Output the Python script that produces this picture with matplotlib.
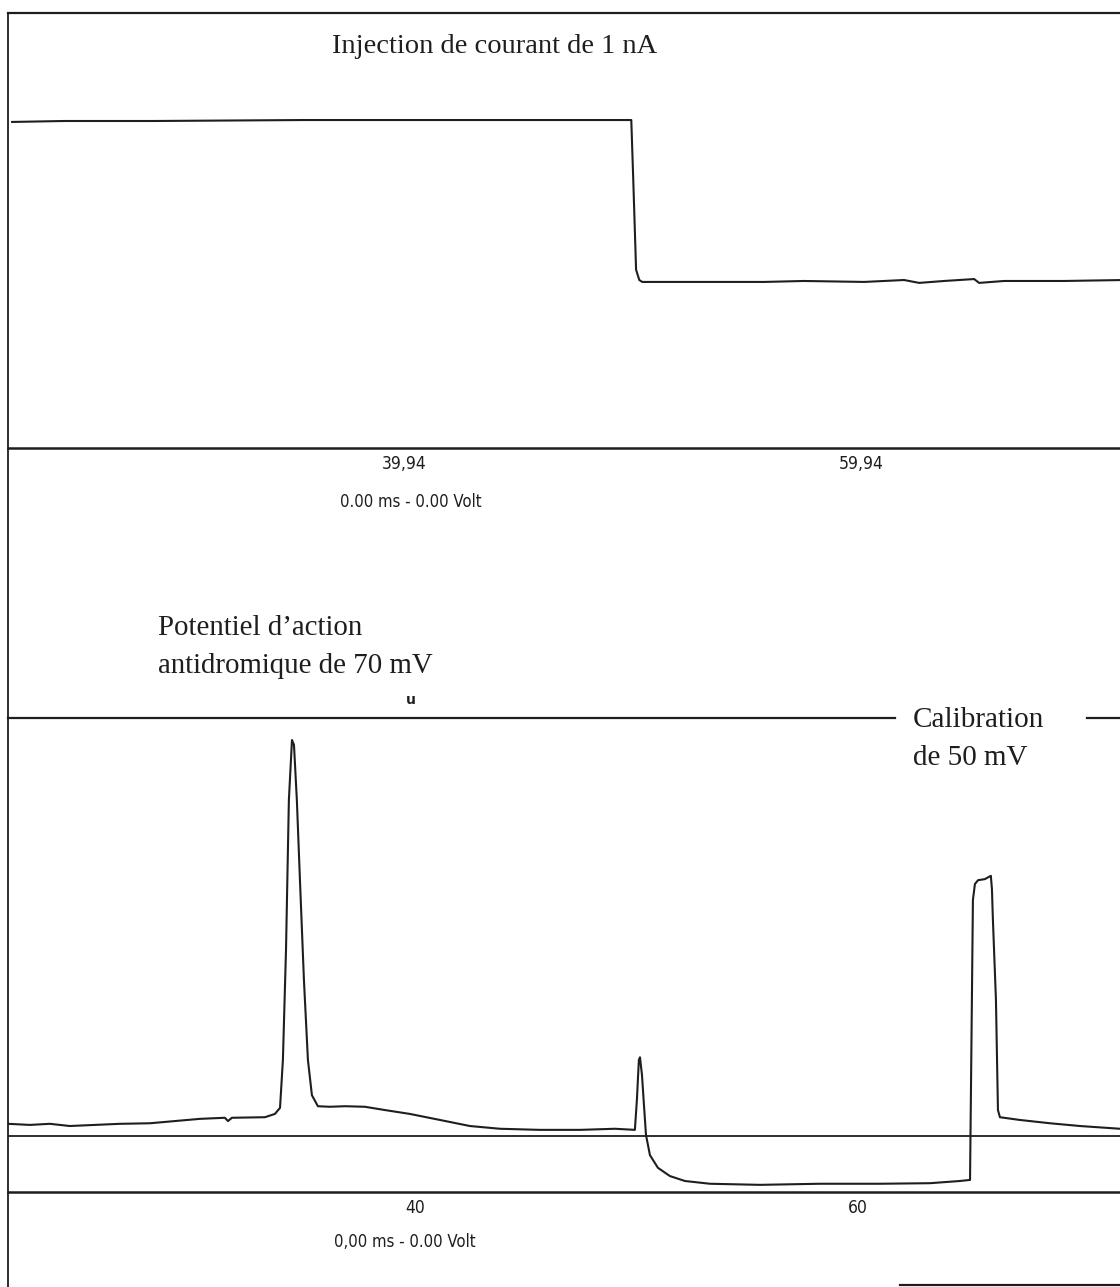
import matplotlib.pyplot as plt
from matplotlib.lines import Line2D
import numpy as np

# //--------------------------< data >--------------------------\\

# top trace : injected current (nA, relative to the step level), time in ms
cur_t = [22.78, 25.06, 29.0, 35.56, 42.13, 48.69, 49.88, 49.96, 50.09, 50.23,
         50.36, 52.19, 55.70, 57.44, 60.07, 61.82, 62.48, 63.57, 64.89, 65.1,
         66.2, 68.82, 71.45]
cur_v = [0.994, 1.0, 1.0, 1.006, 1.006, 1.006, 1.006, 0.66, 0.07, 0.006,
         -0.006, -0.006, -0.006, 0.0, -0.006, 0.006, -0.012, 0.0, 0.012, -0.012,
         0.0, 0.0, 0.006]

# bottom trace : membrane potential (mV above lower line), time in ms
pot_t = [21.63, 22.62, 23.52, 24.42, 25.55, 26.68, 28.04, 29.16, 30.29, 31.42,
         31.56, 31.74, 33.23, 33.68, 33.91, 34.04, 34.18, 34.31, 34.45, 34.54,
         34.67, 34.81, 34.99, 35.17, 35.35, 35.62, 36.16, 36.84, 37.74, 38.65,
         39.77, 41.13, 42.48, 43.84, 45.64, 47.45, 49.03, 49.93, 50.02, 50.11,
         50.16, 50.25, 50.34, 50.43, 50.61, 50.97, 51.51, 52.19, 53.32, 55.58,
         58.28, 60.99, 63.25, 64.60, 65.06, 65.19, 65.28, 65.42, 65.73, 66.00,
         66.05, 66.09, 66.23, 66.32, 66.41, 67.31, 68.67, 70.02, 71.83]
pot_v = [12.4, 12.2, 12.4, 12.0, 12.2, 12.4, 12.5, 12.9, 13.3, 13.5,
         12.9, 13.5, 13.6, 14.2, 15.3, 24.0, 44.0, 71.3, 82.2, 81.3,
         71.3, 56.7, 38.5, 24.0, 17.6, 15.6, 15.5, 15.6, 15.5, 14.9,
         14.2, 13.1, 12.0, 11.5, 11.3, 11.3, 11.5, 11.3, 16.7, 24.0,
         24.5, 21.3, 15.8, 10.4, 6.7, 4.4, 2.9, 2.0, 1.5, 1.3,
         1.5, 1.5, 1.6, 2.0, 2.2, 53.1, 56.0, 56.7, 56.9, 57.5,
         55.0, 49.8, 34.9, 14.9, 13.6, 13.1, 12.5, 12.0, 11.5]

top_ticks = [39.94, 59.94]
top_ticklabels = ['39,94', '59,94']
bot_ticks = [40, 60]
bot_ticklabels = ['40', '60']
ref_line = 10.2      # middle reference line of lower panel (mV)

# //--------------------------< figure >--------------------------\\

ink = '#1e1e1e'
serif = ['Liberation Serif', 'DejaVu Serif']
narrow = ['DejaVu Sans']

fig = plt.figure(figsize=(11.2, 12.87), dpi=100)

W, H = 1120.0, 1287.0
def box(x0, y0, x1, y1):
    return [x0 / W, 1 - y1 / H, (x1 - x0) / W, (y1 - y0) / H]

# top panel
ax1 = fig.add_axes(box(8, 13, 1120, 448))
ax1.plot(cur_t, cur_v, color=ink, lw=1.5)
ax1.set_xlim(22.60, 71.27)
ax1.set_ylim(-1.044, 1.675)
for s in ['left', 'right']:
    ax1.spines[s].set_visible(False)
ax1.spines['top'].set_linewidth(1.6)
ax1.spines['bottom'].set_linewidth(1.8)
ax1.spines['top'].set_color(ink)
ax1.spines['bottom'].set_color(ink)
ax1.set_yticks([])
ax1.set_xticks(top_ticks)
ax1.set_xticklabels(top_ticklabels, family=narrow, fontsize=12.5,
                    fontstretch='condensed')
ax1.tick_params(axis='x', length=0, pad=5, colors=ink)
ax1.text(0.4375, 0.922, 'Injection de courant de 1 nA', transform=ax1.transAxes,
         ha='center', va='center', family=serif, fontsize=20.5, color=ink)
ax1.text(0.362, -0.124, '0.00 ms - 0.00 Volt', transform=ax1.transAxes,
         ha='center', va='center', family=narrow, fontsize=12,
         fontstretch='condensed', color=ink)

# bottom panel
ax2 = fig.add_axes(box(8, 718, 1120, 1192))
ax2.plot(pot_t, pot_v, color=ink, lw=1.5)
ax2.set_xlim(21.63, 71.83)
ax2.set_ylim(0, 86.2)
for s in ['left', 'right', 'top']:
    ax2.spines[s].set_visible(False)
ax2.spines['bottom'].set_linewidth(1.8)
ax2.spines['bottom'].set_color(ink)
ax2.axhline(ref_line, color=ink, lw=1.3)
ax2.axhline(86.2, xmax=0.7977, color=ink, lw=1.6, clip_on=False)
ax2.axhline(86.2, xmin=0.9703, color=ink, lw=1.6, clip_on=False)
ax2.set_yticks([])
ax2.set_xticks(bot_ticks)
ax2.set_xticklabels(bot_ticklabels, family=narrow, fontsize=12.5,
                    fontstretch='condensed')
ax2.tick_params(axis='x', length=0, pad=5, colors=ink)
ax2.text(0.135, 1.15, 'Potentiel d\u2019action\nantidromique de 70 mV',
         transform=ax2.transAxes, ha='left', va='center', family=serif,
         fontsize=20.8, color=ink, linespacing=1.62)
ax2.text(0.362, 1.038, 'u', transform=ax2.transAxes, ha='center', va='center',
         family=narrow, fontsize=10, fontweight='bold', color=ink)
ax2.text(0.814, 0.955, 'Calibration\nde 50 mV', transform=ax2.transAxes,
         ha='left', va='center', family=serif, fontsize=21, color=ink,
         linespacing=1.6)
ax2.text(0.357, -0.105, '0,00 ms - 0.00 Volt', transform=ax2.transAxes,
         ha='center', va='center', family=narrow, fontsize=12,
         fontstretch='condensed', color=ink)
ax2.axhline(-16.9, xmin=0.802, color=ink, lw=1.6, clip_on=False)

# left frame line running down the whole sheet
fig.add_artist(Line2D([8 / W, 8 / W], [0, 1 - 13 / H], color=ink, lw=1.3))

fig.savefig('out.png', dpi=100, facecolor='white')
